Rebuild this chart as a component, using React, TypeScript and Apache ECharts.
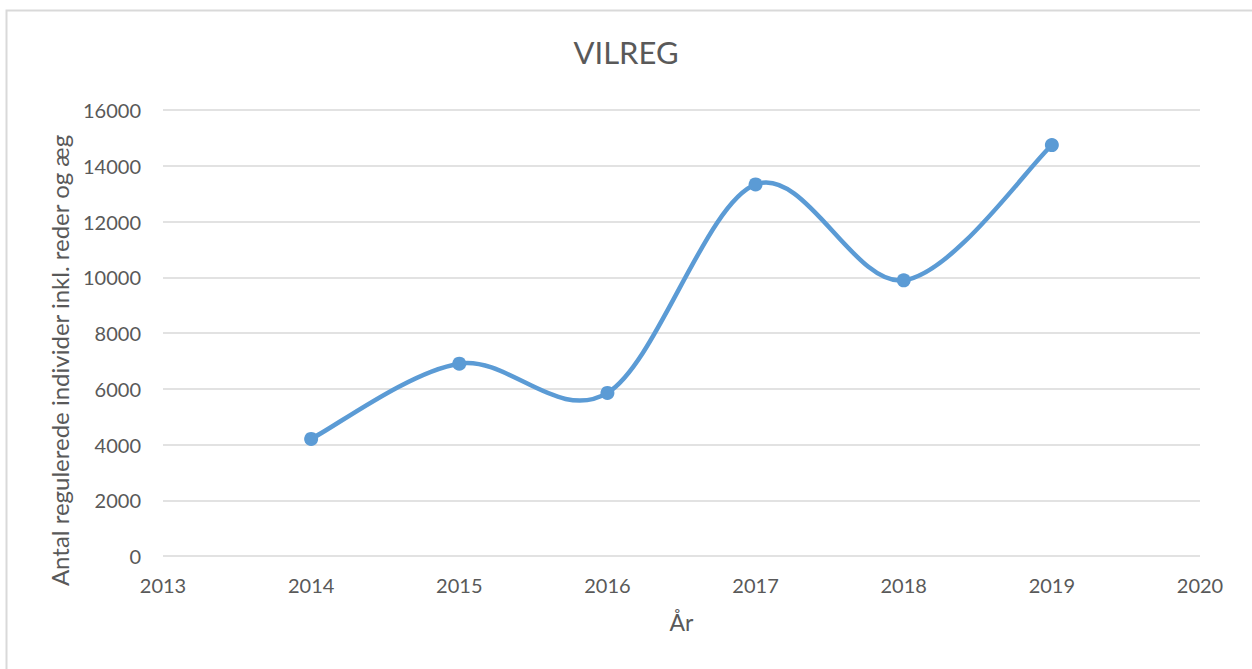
import React, { useEffect, useRef } from "react";
import * as echarts from "echarts";

const years = [2014, 2015, 2016, 2017, 2018, 2019];
const values = [4200, 6900, 5850, 13330, 9890, 14740];
const titleText = "VILREG";
const xName = "År";
const yName = "Antal regulerede individer inkl. reder og æg";

const FONT = "Lato, 'Open Sans', sans-serif";
const TEXT = "#595959";
const LINE = "#5B9BD5";

export default function App() {
  const ref = useRef<HTMLDivElement>(null);
  useEffect(() => {
    if (!ref.current) return;
    const chart = echarts.init(ref.current, undefined, { renderer: "svg" });
    chart.setOption({
      animation: false,
      backgroundColor: "#ffffff",
      textStyle: { fontFamily: FONT, color: TEXT },
      title: {
        text: titleText,
        left: "center",
        top: 31,
        textStyle: { fontFamily: FONT, fontSize: 31, fontWeight: "normal", color: TEXT },
      },
      graphic: [
        {
          type: "rect",
          shape: { x: 6.5, y: 10.5, width: 1270, height: 700 },
          style: { fill: "none", stroke: "#d9d9d9", lineWidth: 2 },
          silent: true,
        },
      ],
      grid: { left: 163, right: 52, top: 110, bottom: 113 },
      xAxis: {
        type: "value",
        min: 2013,
        max: 2020,
        interval: 1,
        name: xName,
        nameLocation: "middle",
        nameGap: 54,
        nameTextStyle: { fontFamily: FONT, fontSize: 23, color: TEXT },
        axisLine: { show: false },
        axisTick: { show: false },
        splitLine: { show: false },
        axisLabel: {
          fontFamily: FONT,
          fontSize: 20,
          color: TEXT,
          margin: 19,
          formatter: (v: number) => String(v),
        },
      },
      yAxis: {
        type: "value",
        min: 0,
        max: 16000,
        interval: 2000,
        name: yName,
        nameLocation: "middle",
        nameGap: 92,
        nameTextStyle: { fontFamily: FONT, fontSize: 24, color: TEXT, padding: [0, 55, 0, 0] },
        axisLine: { show: false },
        axisTick: { show: false },
        splitLine: { show: true, lineStyle: { color: "#d9d9d9", width: 1.5 } },
        axisLabel: {
          fontFamily: FONT,
          fontSize: 20,
          color: TEXT,
          margin: 22,
          formatter: (v: number) => String(v),
        },
      },
      series: [
        {
          type: "custom",
          coordinateSystem: "cartesian2d",
          data: [[years[0], values[0]]],
          silent: true,
          z: 2,
          renderItem: (_params: any, api: any) => {
            const pts = years.map((y, i) => api.coord([y, values[i]]));
            const n = pts.length;
            let d = `M${pts[0][0]},${pts[0][1]}`;
            for (let i = 0; i < n - 1; i++) {
              const p0 = pts[Math.max(i - 1, 0)];
              const p1 = pts[i];
              const p2 = pts[i + 1];
              const p3 = pts[Math.min(i + 2, n - 1)];
              const c1x = p1[0] + (p2[0] - p0[0]) / 6;
              const c1y = p1[1] + (p2[1] - p0[1]) / 6;
              const c2x = p2[0] - (p3[0] - p1[0]) / 6;
              const c2y = p2[1] - (p3[1] - p1[1]) / 6;
              d += ` C${c1x},${c1y} ${c2x},${c2y} ${p2[0]},${p2[1]}`;
            }
            return {
              type: "path",
              shape: { pathData: d },
              style: { fill: "none", stroke: LINE, lineWidth: 4.5, lineCap: "round", lineJoin: "round" },
            };
          },
        },
        {
          type: "scatter",
          data: years.map((y, i) => [y, values[i]]),
          symbol: "circle",
          symbolSize: 14,
          z: 3,
          itemStyle: { color: LINE, opacity: 1 },
        },
      ],
    });
    return () => chart.dispose();
  }, []);
  return (
    <div
      ref={ref}
      style={{ position: "absolute", left: 0, top: 0, width: 1252, height: 669 }}
    />
  );
}
